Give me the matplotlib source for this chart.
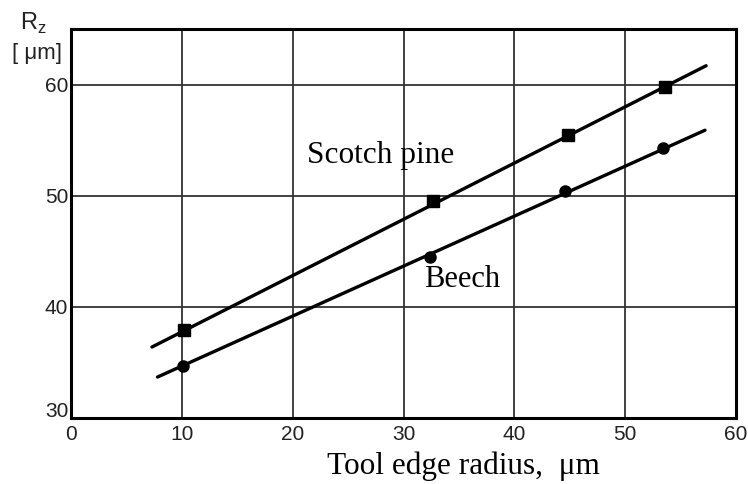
import numpy as np
import matplotlib.pyplot as plt
import matplotlib.transforms as mtransforms

# measured points
pine_x = [10.2, 32.7, 44.8, 53.6]
pine_y = [37.9, 49.5, 55.5, 59.8]
beech_x = [10.1, 32.4, 44.6, 53.4]
beech_y = [34.7, 44.5, 50.4, 54.3]

# fitted lines (end points)
pine_line_x = [7.3, 57.3]
pine_line_y = [36.4, 61.7]
beech_line_x = [7.8, 57.2]
beech_line_y = [33.7, 55.9]

xticks = [0, 10, 20, 30, 40, 50, 60]
yticks = [30, 40, 50, 60]

serif = 'Liberation Serif'
sans = 'Liberation Sans'

fig = plt.figure(figsize=(7.48, 4.84), dpi=100)
ax = fig.add_axes([0.095, 0.136, 0.889, 0.804])

ax.plot(pine_line_x, pine_line_y, color='black', lw=2.4, solid_capstyle='round')
ax.plot(beech_line_x, beech_line_y, color='black', lw=2.4, solid_capstyle='round')
ax.plot(pine_x, pine_y, 's', color='black', ms=8)
ax.plot(beech_x, beech_y, 'o', color='black', ms=8)

ax.set_xlim(0, 60)
ax.set_ylim(30, 65)
ax.set_xticks(xticks)
ax.set_yticks(yticks)
ax.grid(True, color='#333333', lw=1.3)
ax.set_axisbelow(True)
ax.tick_params(length=0, labelsize=15, pad=2)
ax.tick_params(axis='x', pad=5)
for lab in ax.get_xticklabels() + ax.get_yticklabels():
    lab.set_family(sans)
    lab.set_color('#222222')
# the "30" sits a little above the axis corner in the original
lab30 = ax.get_yticklabels()[0]
lab30.set_transform(lab30.get_transform() + mtransforms.ScaledTranslation(0, 6 / 72, fig.dpi_scale_trans))
for s in ax.spines.values():
    s.set_linewidth(2.2)

ax.text(27.9, 53.6, 'Scotch pine', family=serif, fontsize=22.5, ha='center', va='center')
ax.text(35.3, 42.5, 'Beech', family=serif, fontsize=22, ha='center', va='center')

ax.set_xlabel('Tool edge radius,  \u03bcm', family=serif, fontsize=22.5)
ax.xaxis.set_label_coords(0.59, -0.085, transform=ax.transAxes)
ax.xaxis.label.set_va('top')

fig.text(0.045, 0.952, 'R$_\\mathregular{z}$', family=sans, fontsize=17, ha='center', va='center', color='#222222')
fig.text(0.05, 0.89, '[ \u03bcm]', family=sans, fontsize=16, ha='center', va='center', color='#222222')

fig.savefig('out.png', dpi=100)
